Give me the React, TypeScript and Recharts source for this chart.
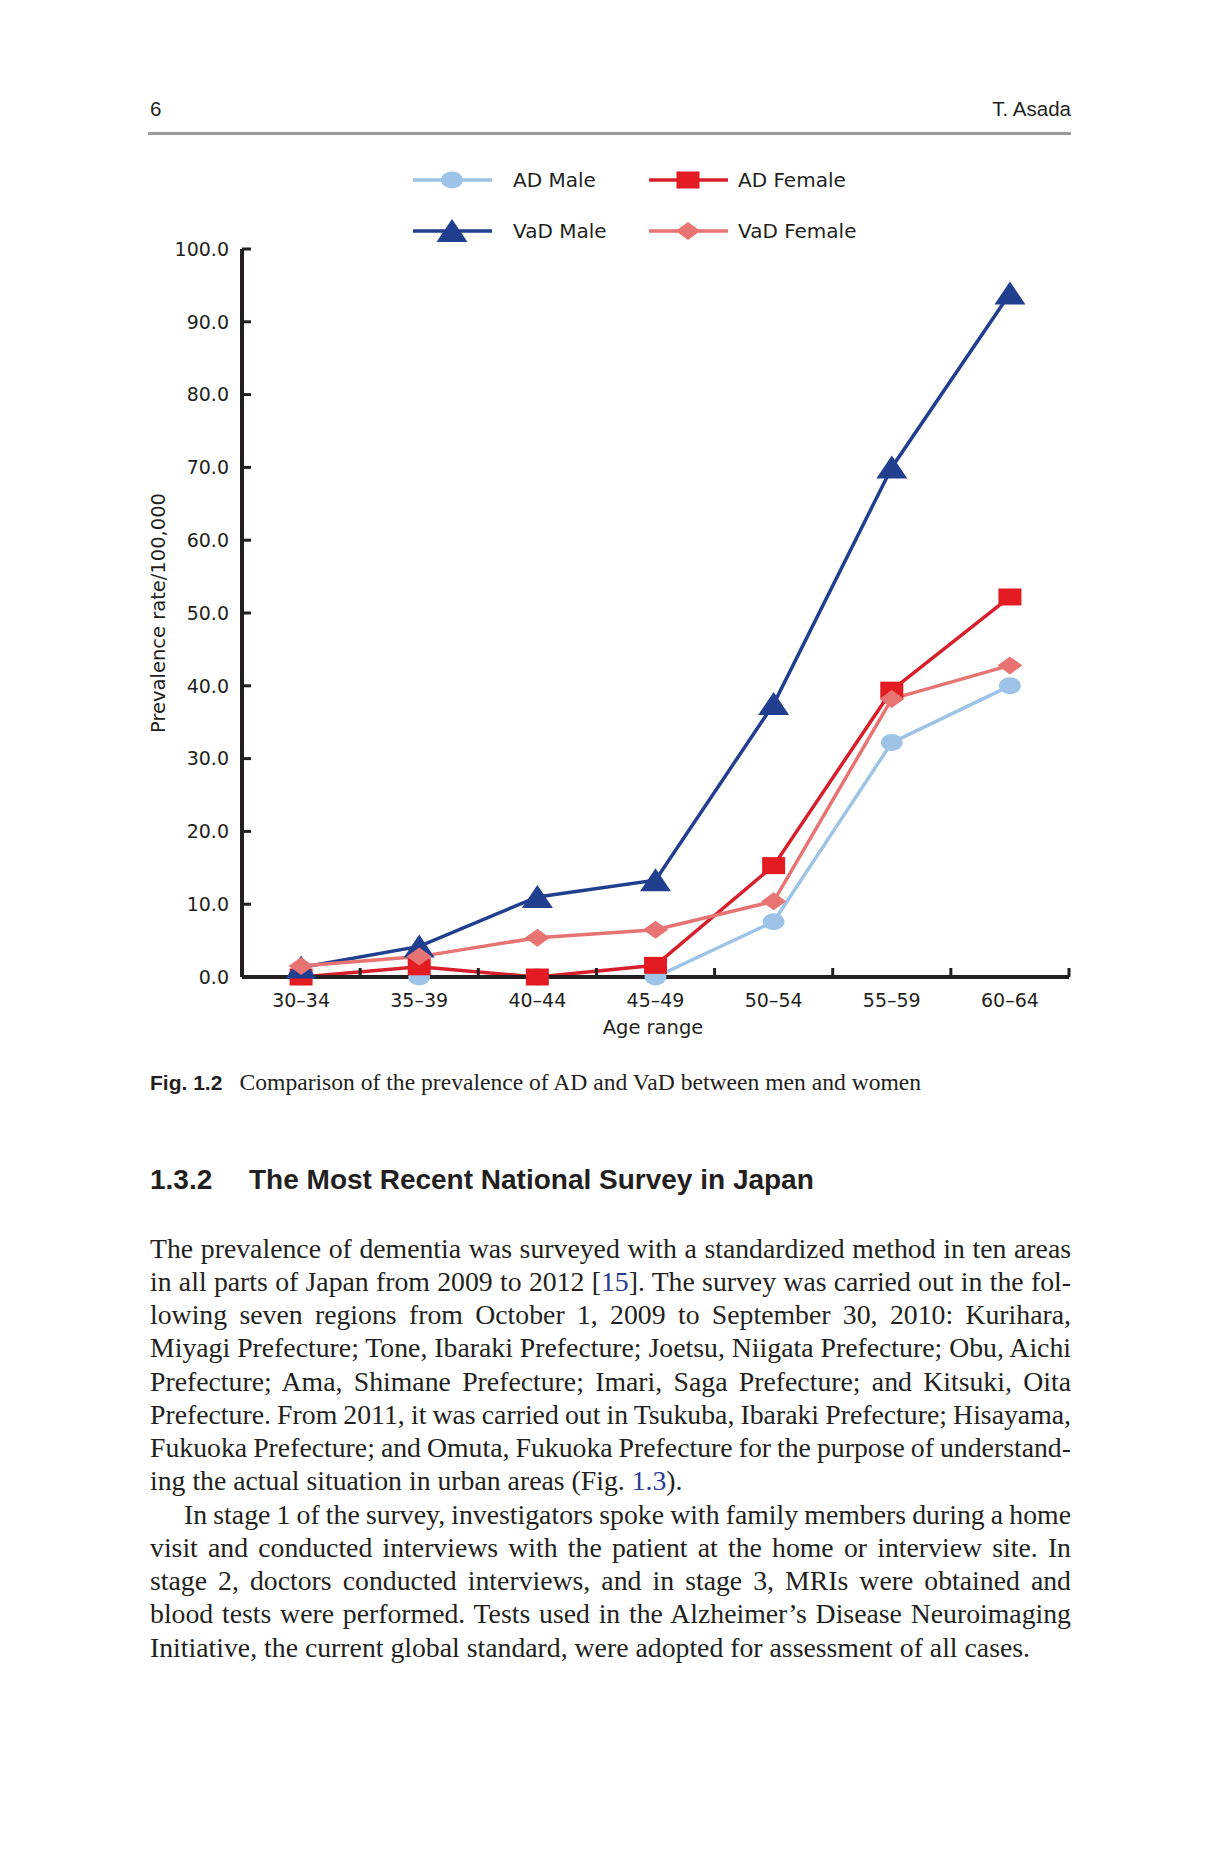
import React from "react";
import { LineChart, Line, XAxis, YAxis, Legend } from "recharts";

const ageRanges = ["30–34", "35–39", "40–44", "45–49", "50–54", "55–59", "60–64"];
const adMale = [0, 0, 0, 0, 7.6, 32.2, 40.0];
const adFemale = [0, 1.4, 0, 1.6, 15.3, 39.4, 52.2];
const vadMale = [1.3, 4.2, 11.0, 13.3, 37.5, 70.0, 93.9];
const vadFemale = [1.5, 2.8, 5.4, 6.5, 10.4, 38.2, 42.8];
const yTicks = [0, 10, 20, 30, 40, 50, 60, 70, 80, 90, 100];

const rows = ageRanges.map((age, i) => ({
  age,
  adMale: adMale[i],
  adFemale: adFemale[i],
  vadMale: vadMale[i],
  vadFemale: vadFemale[i]
}));

const series = [
  { key: "adMale", name: "AD Male", line: "#9dc3e6", fill: "#9dc3e6", shape: "circle" },
  { key: "adFemale", name: "AD Female", line: "#d71f2b", fill: "#e31b23", shape: "square" },
  { key: "vadMale", name: "VaD Male", line: "#213f8f", fill: "#213f8f", shape: "triangle" },
  { key: "vadFemale", name: "VaD Female", line: "#e77373", fill: "#e77373", shape: "diamond" }
];

const ink = "#231f20";
const chartFont = "DejaVu Sans";
const TICK_SIZE = 6;
const X_TICK_MARGIN = 10.5;
const Y_TICK_MARGIN = 7;
const INNER_TICK = 9;

function Marker({ cx, cy, shape, fill }: { cx?: number; cy?: number; shape: string; fill: string }) {
  if (cx == null || cy == null) return null;
  if (shape === "circle") return <ellipse cx={cx} cy={cy} rx={11} ry={8.5} fill={fill} />;
  if (shape === "square") return <rect x={cx - 11.5} y={cy - 8.5} width={23} height={17} fill={fill} />;
  if (shape === "triangle")
    return <polygon points={`${cx},${cy - 12} ${cx + 15.5},${cy + 11} ${cx - 15.5},${cy + 11}`} fill={fill} />;
  return <polygon points={`${cx},${cy - 9} ${cx + 12.5},${cy} ${cx},${cy + 9} ${cx - 12.5},${cy}`} fill={fill} />;
}

function LegendBox() {
  const colX = [0, 236];
  const textX = [113, 338];
  const rowY = [25, 76];
  return (
    <svg width={460} height={100}>
      {series.map((s, i) => {
        const x0 = colX[i % 2];
        const y = rowY[Math.floor(i / 2)];
        return (
          <g key={s.key}>
            <line x1={x0 + 13} x2={x0 + 92} y1={y} y2={y} stroke={s.line} strokeWidth={3.5} />
            <Marker cx={x0 + 52} cy={y} shape={s.shape} fill={s.fill} />
            <text x={textX[i % 2]} y={y + 7.3} fontSize={20} fontFamily={chartFont} fill={ink}>
              {s.name}
            </text>
          </g>
        );
      })}
    </svg>
  );
}

// category label plus an inward tick at the band's left edge (and right edge for the last band)
function XTick(props: any) {
  const { x, y, payload, index, visibleTicksCount, width } = props;
  const half = typeof payload.offset === "number" && payload.offset > 0 ? payload.offset : width / visibleTicksCount / 2;
  const axisY = y - TICK_SIZE - X_TICK_MARGIN;
  const left = payload.coordinate - half;
  const right = payload.coordinate + half;
  return (
    <g>
      <line x1={left} x2={left} y1={axisY} y2={axisY - INNER_TICK} stroke={ink} strokeWidth={3} />
      {index === visibleTicksCount - 1 && (
        <line x1={right} x2={right} y1={axisY} y2={axisY - INNER_TICK} stroke={ink} strokeWidth={3} />
      )}
      <text x={x} y={y} dy="0.71em" textAnchor="middle" fontSize={19} fontFamily={chartFont} fill={ink}>
        {payload.value}
      </text>
    </g>
  );
}

function YTick(props: any) {
  const { x, y, payload } = props;
  const axisX = x + TICK_SIZE + Y_TICK_MARGIN;
  return (
    <g>
      <line x1={axisX} x2={axisX + INNER_TICK} y1={y} y2={y} stroke={ink} strokeWidth={3} />
      <text x={x} y={y} dy="0.355em" textAnchor="end" fontSize={19} fontFamily={chartFont} fill={ink}>
        {Number(payload.value).toFixed(1)}
      </text>
    </g>
  );
}

function YTitle(props: any) {
  const vb = props.viewBox || { x: 0, y: 109, width: 112, height: 728 };
  const x = vb.x + 34.5;
  const y = vb.y + vb.height / 2;
  return (
    <text x={x} y={y} transform={`rotate(-90, ${x}, ${y})`} textAnchor="middle" fontSize={19.5} fontFamily={chartFont} fill={ink}>
      Prevalence rate/100,000
    </text>
  );
}

function XTitle(props: any) {
  const vb = props.viewBox || { x: 112, y: 837, width: 827, height: 50 };
  return (
    <text x={vb.x + vb.width / 2 - 2.5} y={vb.y + 57} textAnchor="middle" fontSize={19.5} fontFamily={chartFont} fill={ink}>
      Age range
    </text>
  );
}

function PrevalenceChart() {
  return (
    <LineChart width={960} height={920} data={rows} margin={{ top: 109, right: 21, bottom: 33, left: 0 }}>
      <XAxis
        dataKey="age"
        scale="band"
        interval={0}
        height={50}
        axisLine={{ stroke: ink, strokeWidth: 4 }}
        tickLine={false}
        tickSize={TICK_SIZE}
        tickMargin={X_TICK_MARGIN}
        tick={<XTick />}
        label={XTitle}
      />
      <YAxis
        width={112}
        domain={[0, 100]}
        ticks={yTicks}
        interval={0}
        axisLine={{ stroke: ink, strokeWidth: 4 }}
        tickLine={false}
        tickSize={TICK_SIZE}
        tickMargin={Y_TICK_MARGIN}
        tick={<YTick />}
        label={YTitle}
      />
      <Legend
        verticalAlign="middle"
        align="center"
        layout="horizontal"
        content={() => <LegendBox />}
        wrapperStyle={{ left: 270, top: 15, width: 460, height: 100 }}
      />
      {series.map((s) => (
        <Line
          key={s.key}
          type="linear"
          dataKey={s.key}
          name={s.name}
          stroke={s.line}
          strokeWidth={3.5}
          isAnimationActive={false}
          activeDot={false}
          dot={(p: any) => <Marker key={`${s.key}-${p.index}`} cx={p.cx} cy={p.cy} shape={s.shape} fill={s.fill} />}
        />
      ))}
    </LineChart>
  );
}

const link = "#2b3a95";

function TextRow({ children, last, indent }: { children: React.ReactNode; last?: boolean; indent?: boolean }) {
  return (
    <div
      style={{
        height: 33.26,
        textAlign: last ? "left" : "justify",
        textAlignLast: last ? "auto" : "justify",
        textIndent: indent ? 34 : 0,
        wordSpacing: last ? 0 : -3
      }}
    >
      {children}
    </div>
  );
}

export default function App() {
  return (
    <div style={{ position: "absolute", left: 0, top: 0, width: 1221, height: 1851, background: "#fff", overflow: "hidden" }}>
      <svg width={1221} height={1851} style={{ position: "absolute", left: 0, top: 0 }}>
        <text x={150} y={116} fontSize={20.5} fontFamily="Liberation Sans" fill={ink}>6</text>
        <text x={1071} y={116} fontSize={20.5} fontFamily="Liberation Sans" fill={ink} textAnchor="end">T. Asada</text>
        <rect x={148} y={132} width={923} height={3} fill="#9b9b9b" />
        <text x={150} y={1090} fontSize={21} fontWeight="bold" fontFamily="Liberation Sans" fill={ink}>Fig. 1.2</text>
        <text x={239.5} y={1090} fontSize={23.6} fontFamily="Liberation Serif" fill={ink}>
          Comparison of the prevalence of AD and VaD between men and women
        </text>
        <text x={150} y={1189} fontSize={28} fontWeight="bold" fontFamily="Liberation Sans" fill={ink}>1.3.2</text>
        <text x={249} y={1189} fontSize={28} fontWeight="bold" fontFamily="Liberation Sans" fill={ink}>
          The Most Recent National Survey in Japan
        </text>
      </svg>
      <div style={{ position: "absolute", left: 130, top: 140 }}>
        <PrevalenceChart />
      </div>
      <div
        style={{
          position: "absolute",
          left: 150,
          top: 1231.5,
          width: 921,
          fontFamily: '"Liberation Serif", serif',
          fontSize: 27.75,
          lineHeight: "33.26px",
          color: ink
        }}
      >
        <TextRow>The prevalence of dementia was surveyed with a standardized method in ten areas</TextRow>
        <TextRow>
          in all parts of Japan from 2009 to 2012 [<span style={{ color: link }}>15</span>]. The survey was carried out in the fol-
        </TextRow>
        <TextRow>lowing seven regions from October 1, 2009 to September 30, 2010: Kurihara,</TextRow>
        <TextRow>Miyagi Prefecture; Tone, Ibaraki Prefecture; Joetsu, Niigata Prefecture; Obu, Aichi</TextRow>
        <TextRow>Prefecture; Ama, Shimane Prefecture; Imari, Saga Prefecture; and Kitsuki, Oita</TextRow>
        <TextRow>Prefecture. From 2011, it was carried out in Tsukuba, Ibaraki Prefecture; Hisayama,</TextRow>
        <TextRow>Fukuoka Prefecture; and Omuta, Fukuoka Prefecture for the purpose of understand-</TextRow>
        <TextRow last>
          ing the actual situation in urban areas (Fig. <span style={{ color: link }}>1.3</span>).
        </TextRow>
        <TextRow indent>In stage 1 of the survey, investigators spoke with family members during a home</TextRow>
        <TextRow>visit and conducted interviews with the patient at the home or interview site. In</TextRow>
        <TextRow>stage 2, doctors conducted interviews, and in stage 3, MRIs were obtained and</TextRow>
        <TextRow>blood tests were performed. Tests used in the Alzheimer’s Disease Neuroimaging</TextRow>
        <TextRow last>Initiative, the current global standard, were adopted for assessment of all cases.</TextRow>
      </div>
    </div>
  );
}
